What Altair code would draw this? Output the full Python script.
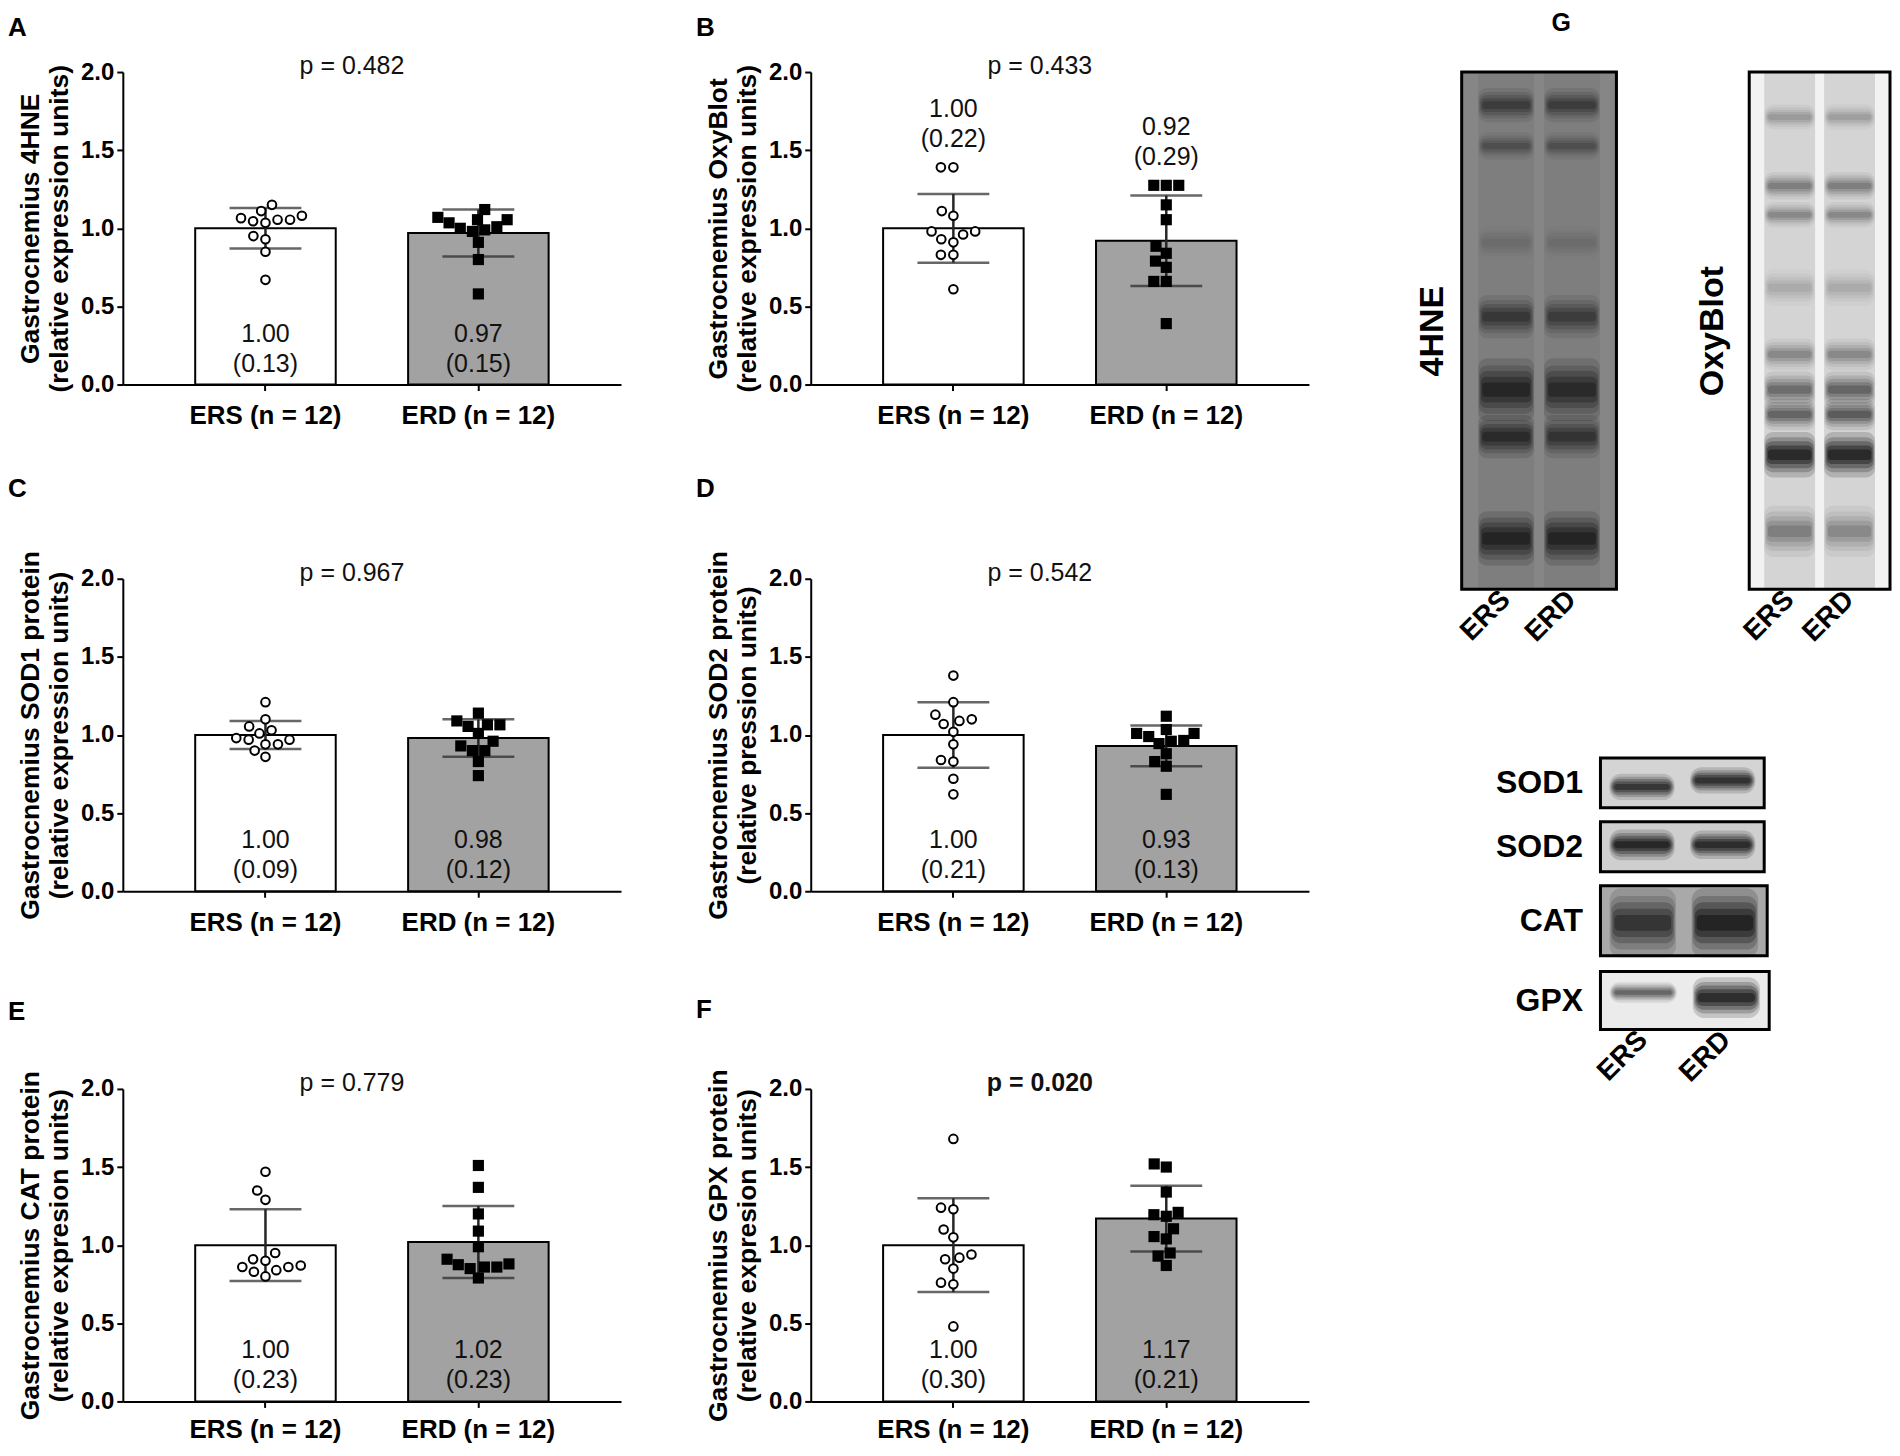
import altair as alt
import pandas as pd

FONT = "Liberation Sans, Arial, sans-serif"

# ---------------- data: bar panels ----------------
groups = ["ERS (n = 12)", "ERD (n = 12)"]
panel_letters = ["A", "B", "C", "D", "E", "F"]
ytitle_top = ["Gastrocnemius 4HNE", "Gastrocnemius OxyBlot", "Gastrocnemius SOD1 protein",
              "Gastrocnemius SOD2 protein", "Gastrocnemius CAT protein", "Gastrocnemius GPX protein"]
ytitle_bottom = ["(relative expression units)", "(relative expression units)", "(relative expression units)",
                 "(relative pression units)", "(relative expresion units)", "(relative expresion units)"]
p_values = ["p = 0.482", "p = 0.433", "p = 0.967", "p = 0.542", "p = 0.779", "p = 0.020"]
p_bold = [False, False, False, False, False, True]
ers_mean = [1.00, 1.00, 1.00, 1.00, 1.00, 1.00]
erd_mean = [0.97, 0.92, 0.98, 0.93, 1.02, 1.17]
ers_sd = [0.13, 0.22, 0.09, 0.21, 0.23, 0.30]
erd_sd = [0.15, 0.29, 0.12, 0.13, 0.23, 0.21]
summary_above = [False, True, False, False, False, False]

ers_points = [
    [1.15, 1.11, 1.08, 1.055, 1.065, 1.055, 1.035, 1.045, 0.95, 0.93, 0.85, 0.67],
    [1.39, 1.39, 1.11, 1.08, 0.98, 0.98, 0.96, 0.93, 0.91, 0.83, 0.83, 0.61],
    [1.21, 1.10, 1.055, 1.03, 1.01, 0.97, 0.97, 0.98, 0.94, 0.90, 0.94, 0.86],
    [1.38, 1.21, 1.10, 1.13, 1.07, 1.09, 1.02, 0.94, 0.83, 0.84, 0.72, 0.62],
    [1.47, 1.35, 1.29, 0.95, 0.91, 0.90, 0.86, 0.87, 0.86, 0.84, 0.83, 0.80],
    [1.68, 1.23, 1.24, 1.10, 1.05, 0.92, 0.91, 0.94, 0.85, 0.76, 0.75, 0.48],
]
erd_points = [
    [1.12, 1.07, 1.055, 1.055, 1.035, 1.00, 0.99, 1.01, 0.98, 0.91, 0.80, 0.58],
    [1.275, 1.275, 1.275, 1.15, 1.055, 0.885, 0.84, 0.79, 0.75, 0.66, 0.66, 0.39],
    [1.14, 1.09, 1.065, 1.055, 1.065, 1.01, 0.96, 0.93, 0.90, 0.90, 0.83, 0.74],
    [1.12, 1.01, 1.035, 1.01, 0.965, 0.945, 0.96, 0.99, 0.88, 0.83, 0.80, 0.62],
    [1.51, 1.37, 1.20, 1.09, 0.99, 0.91, 0.88, 0.86, 0.85, 0.86, 0.79, 0.875],
    [1.50, 1.52, 1.34, 1.21, 1.185, 1.195, 1.105, 1.055, 1.04, 0.95, 0.93, 0.87],
]

# ---------------- data: western blots ----------------
lanes = ["ERS", "ERD"]
hne_pos = [0.064, 0.143, 0.33, 0.473, 0.614, 0.705, 0.902]
hne_thick = [0.03, 0.024, 0.03, 0.038, 0.055, 0.038, 0.048]
hne_ers = [0.5, 0.32, 0.1, 0.55, 0.75, 0.7, 0.8]
hne_erd = [0.5, 0.32, 0.1, 0.5, 0.7, 0.6, 0.8]
oxy_pos = [0.087, 0.22, 0.276, 0.417, 0.546, 0.614, 0.662, 0.74, 0.888]
oxy_thick = [0.022, 0.024, 0.022, 0.032, 0.028, 0.032, 0.028, 0.04, 0.045]
oxy_ers = [0.22, 0.35, 0.3, 0.15, 0.3, 0.45, 0.5, 1.0, 0.35]
oxy_erd = [0.2, 0.35, 0.3, 0.15, 0.3, 0.5, 0.55, 1.0, 0.3]
small_names = ["SOD1", "SOD2", "CAT", "GPX"]
small_pos_ers = [0.58, 0.46, 0.53, 0.36]
small_pos_erd = [0.45, 0.46, 0.53, 0.45]
small_thick_ers = [0.24, 0.28, 0.45, 0.16]
small_thick_erd = [0.24, 0.26, 0.45, 0.32]
small_int_ers = [0.85, 1.0, 0.75, 0.55]
small_int_erd = [0.9, 0.95, 0.95, 1.0]
small_bg = ["#d4d4d4", "#cfcfcf", "#a9a9a9", "#ebebeb"]
small_heights = [50, 50, 70, 58]
small_widths = [164, 164, 167, 169]

# ---------------- layout constants ----------------
W, H = 499, 313
PI, PO = 0.34, 0.34


def bandwidth(width, pi, po):
    return width / (2 - pi + 2 * po) * (1 - pi)


BW = bandwidth(W, PI, PO)
PPU = H / 2.0
DOT = 12.5


def swarm(vals, ppu, d):
    order = sorted(range(len(vals)), key=lambda i: vals[i])
    placed = []
    offs = [0.0] * len(vals)
    for i in order:
        yv = vals[i] * ppu
        cands = [0.0]
        for ox, oy in placed:
            dy = abs(yv - oy)
            if dy < d:
                dx = (d * d - dy * dy) ** 0.5
                cands += [ox + dx, ox - dx]
        cands.sort(key=lambda c: (abs(c), c))
        for c in cands:
            if all((c - ox) ** 2 + (yv - oy) ** 2 >= d * d - 1e-6 for ox, oy in placed):
                offs[i] = c
                break
        placed.append((offs[i], yv))
    return offs


def panel(i, title_offset, label_pad=12):
    means = [ers_mean[i], erd_mean[i]]
    sds = [ers_sd[i], erd_sd[i]]
    pts = [ers_points[i], erd_points[i]]
    if summary_above[i]:
        label_y = [max(p) + 0.05 for p in pts]
    else:
        label_y = [0.0, 0.0]
    bars_df = pd.DataFrame({
        "group": groups,
        "mean": means,
        "lo": [m - s for m, s in zip(means, sds)],
        "hi": [m + s for m, s in zip(means, sds)],
        "fill": ["white", "#a2a2a2"],
        "label": [f"{m:.2f}\n({s:.2f})" for m, s in zip(means, sds)],
        "label_y": label_y,
    })
    caps_df = pd.DataFrame({
        "group": groups * 2,
        "v": [m - s for m, s in zip(means, sds)] + [m + s for m, s in zip(means, sds)],
    })
    ers_df = pd.DataFrame({"group": groups[0], "value": pts[0], "off": swarm(pts[0], PPU, DOT)})
    erd_df = pd.DataFrame({"group": groups[1], "value": pts[1], "off": swarm(pts[1], PPU, DOT)})

    x = alt.X("group:N", sort=groups,
              scale=alt.Scale(type="band", domain=groups, paddingInner=PI, paddingOuter=PO),
              axis=alt.Axis(title=None, labelAngle=0, labelFontSize=26, labelFontWeight="bold",
                            labelPadding=label_pad, tickSize=6, tickWidth=2, domainWidth=2))
    yscale = alt.Scale(domain=[0, 2], nice=False, zero=True)
    yaxis = alt.Axis(title=[ytitle_top[i], ytitle_bottom[i]], values=[0, 0.5, 1.0, 1.5, 2.0],
                     format=".1f", labelFontSize=24, labelFontWeight="bold", labelPadding=3,
                     tickSize=6, tickWidth=2, domainWidth=2, minExtent=44, maxExtent=44,
                     titlePadding=5, titleFontSize=26.5, titleFontWeight="bold", titleLineHeight=29)
    xoff = alt.XOffset("off:Q", scale=alt.Scale(domain=[-BW / 2, BW / 2], range=[0, BW]))

    bars = alt.Chart(bars_df).mark_bar(stroke="black", strokeWidth=2, width=BW).encode(
        x=x, y=alt.Y("mean:Q", scale=yscale, axis=yaxis), fill=alt.Fill("fill:N", scale=None))
    err = alt.Chart(bars_df).mark_rule(color="#262626", strokeWidth=2.5).encode(
        x=x, y=alt.Y("lo:Q", scale=yscale), y2="hi:Q")
    caps = alt.Chart(caps_df).mark_tick(color="#262626", thickness=2.5, size=72).encode(
        x=x, y=alt.Y("v:Q", scale=yscale))
    circles = alt.Chart(ers_df).mark_point(shape="circle", filled=True, fill="white", stroke="black",
                                           strokeWidth=2, size=75, opacity=1).encode(
        x=x, xOffset=xoff, y=alt.Y("value:Q", scale=yscale))
    squares = alt.Chart(erd_df).mark_square(size=125, color="black", opacity=1).encode(
        x=x, xOffset=xoff, y=alt.Y("value:Q", scale=yscale))
    summary = alt.Chart(bars_df).mark_text(lineBreak="\n", fontSize=25, lineHeight=30, baseline="bottom",
                                           dy=-38, color="#111111", font=FONT).encode(
        x=x, y=alt.Y("label_y:Q", scale=yscale), text="label:N")
    ptext = alt.Chart(pd.DataFrame({"t": [p_values[i]]})).mark_text(
        fontSize=25, fontWeight="bold" if p_bold[i] else "normal", baseline="alphabetic",
        dx=-20, dy=2, color="#111111", font=FONT).encode(
        x=alt.value(W / 2), y=alt.value(0), text="t:N")

    return alt.layer(bars, err, caps, circles, squares, summary, ptext).properties(
        width=W, height=H,
        title=alt.TitleParams(panel_letters[i], anchor="start", frame="bounds", dx=-10,
                              offset=title_offset, fontSize=26, fontWeight="bold", font=FONT))


# ---------------- blots ----------------
# (height factor, width factor, opacity factor, corner radius) of the soft band layers
HALO = [(2.2, 1.00, 0.16, 9), (1.7, 0.97, 0.20, 8), (1.3, 0.94, 0.26, 7), (0.9, 0.90, 0.33, 5),
        (0.5, 0.85, 0.40, 3)]


def band_rows(lane, pos, th, inten):
    return [dict(lane=lane, level=k, y0=pos - th * f / 2, y1=pos + th * f / 2, op=min(1.0, inten * a))
            for k, (f, wf, a, cr) in enumerate(HALO)]


def band_layers(bands, xs, ys, lbw, radius_scale=1.0):
    layers = []
    for k, (f, wf, a, cr) in enumerate(HALO):
        layers.append(
            alt.Chart(bands).transform_filter(alt.datum.level == k).mark_rect(
                color="black", cornerRadius=cr * radius_scale, width=lbw * wf).encode(
                x=xs, y=ys, y2="y1:Q", opacity=alt.Opacity("op:Q", scale=None)))
    return layers


def lane_x(pi, po, show_axis):
    if show_axis:
        ax = alt.Axis(title=None, labelAngle=315, labelAlign="right", labelBaseline="middle",
                      labelFontSize=28, labelFontWeight="bold", ticks=False, domain=False,
                      labelPadding=6)
    else:
        ax = None
    return alt.X("lane:N", sort=lanes,
                 scale=alt.Scale(type="band", domain=lanes, paddingInner=pi, paddingOuter=po),
                 axis=ax)


def big_blot(name, pos, thick, ers, erd, width, height, bg, lane_op, title_pad, title=None):
    pi, po = 0.15, 0.25
    lbw = bandwidth(width, pi, po)
    rows = []
    for lane, ints in (("ERS", ers), ("ERD", erd)):
        for p, t, it in zip(pos, thick, ints):
            rows += band_rows(lane, p, t, it)
    bands = pd.DataFrame(rows)
    lanes_df = pd.DataFrame({"lane": lanes, "y0": [0.0, 0.0], "y1": [1.0, 1.0], "op": [lane_op, lane_op]})
    xs = lane_x(pi, po, True)
    ysc = alt.Scale(domain=[0, 1], reverse=True, nice=False, zero=False)
    ys = alt.Y("y0:Q", scale=ysc,
               axis=alt.Axis(title=name, labels=False, ticks=False, domain=False, grid=False,
                             titleFontSize=34, titleFontWeight="bold", titlePadding=title_pad,
                             minExtent=0, maxExtent=0))
    lane_layer = alt.Chart(lanes_df).mark_rect(color="black", width=lbw).encode(
        x=xs, y=ys, y2="y1:Q", opacity=alt.Opacity("op:Q", scale=None))
    props = dict(width=width, height=height,
                 view=alt.ViewBackground(fill=bg, stroke="black", strokeWidth=3))
    if title is not None:
        props["title"] = title
    return alt.layer(lane_layer, *band_layers(bands, xs, ys, lbw)).properties(**props)


def small_blot(i, show_x):
    pi, po = 0.19, 0.11
    lbw = bandwidth(small_widths[i], pi, po)
    rows = band_rows("ERS", small_pos_ers[i], small_thick_ers[i], small_int_ers[i]) + \
        band_rows("ERD", small_pos_erd[i], small_thick_erd[i], small_int_erd[i])
    bands = pd.DataFrame(rows)
    xs = lane_x(pi, po, show_x)
    ys = alt.Y("y0:Q", scale=alt.Scale(domain=[0, 1], reverse=True, nice=False, zero=False),
               axis=alt.Axis(title=None, values=[0.5], labelExpr=f"'{small_names[i]}'", ticks=False,
                             domain=False, grid=False, labelFontSize=32, labelFontWeight="bold",
                             labelPadding=18, minExtent=110, maxExtent=110))
    return alt.layer(*band_layers(bands, xs, ys, lbw, 1.3)).properties(
        width=small_widths[i], height=small_heights[i],
        view=alt.ViewBackground(fill=small_bg[i], stroke="black", strokeWidth=3))


# ---------------- composition ----------------
row1 = alt.hconcat(panel(0, 13), panel(1, 13), spacing=75)
row2 = alt.hconcat(panel(2, 49), panel(3, 49), spacing=75)
row3 = alt.hconcat(panel(4, 46, 9), panel(5, 46, 9), spacing=75)
left = alt.vconcat(alt.vconcat(row1, row2, spacing=46.5), row3, spacing=60.5)

g_title = alt.TitleParams("G", anchor="start", frame="bounds", dx=136, offset=36,
                          fontSize=25, fontWeight="bold", font=FONT)
hne = big_blot("4HNE", hne_pos, hne_thick, hne_ers, hne_erd, 155, 518, "#868686", 0.06, 12, g_title)
oxy = big_blot("OxyBlot", oxy_pos, oxy_thick, oxy_ers, oxy_erd, 141, 518, "#f2f2f2", 0.12, 20)
big_row = alt.hconcat(hne, oxy, spacing=75)

spacer = alt.Chart(pd.DataFrame({"v": [0.0]})).mark_point(opacity=0, size=1).encode(
    x=alt.X("v:Q", axis=None), y=alt.Y("v:Q", axis=None)).properties(width=1, height=1)
small_col = alt.vconcat(*[small_blot(k, k == 3) for k in range(4)], spacing=10)
small_row = alt.hconcat(spacer, small_col, spacing=26)
right = alt.vconcat(big_row, small_row, spacing=107)

chart = alt.hconcat(left, right, spacing=105).properties(
    padding={"left": 0, "top": 0, "right": 0, "bottom": 0}
).configure(font=FONT).configure_view(stroke=None).configure_axis(
    domainColor="black", tickColor="black", labelColor="black", titleColor="black",
    labelFont=FONT, titleFont=FONT, grid=False
).configure_title(font=FONT, color="black", anchor="start")

chart.save("out.html", embed_options={"renderer": "svg", "actions": False})
